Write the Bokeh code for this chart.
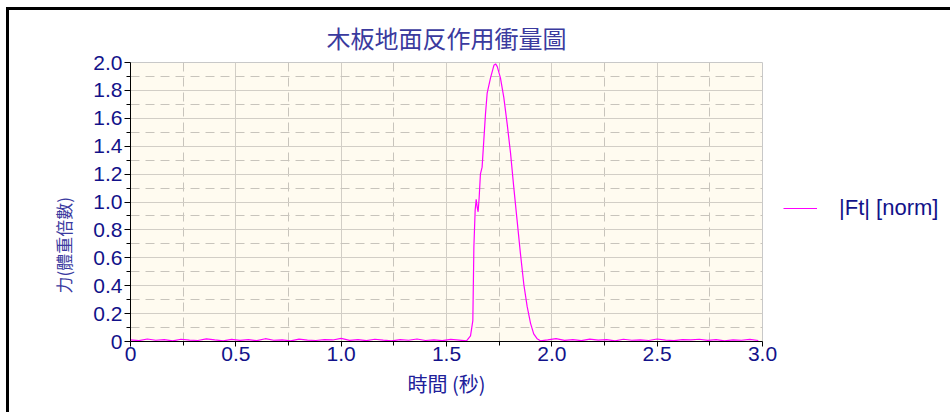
import math
from bokeh.plotting import figure
from bokeh.models import (Range1d, FixedTicker, Legend, LegendItem, Title,
                          NumeralTickFormatter)
from bokeh.embed import file_html
from bokeh.resources import INLINE

# ---- data ----
time_s = [
    0.00, 0.04, 0.08, 0.12, 0.16, 0.20, 0.24, 0.28, 0.32, 0.36,
    0.40, 0.44, 0.48, 0.52, 0.56, 0.60, 0.64, 0.68, 0.72, 0.76,
    0.80, 0.84, 0.88, 0.92, 0.96, 1.00, 1.04, 1.08, 1.12, 1.16,
    1.20, 1.24, 1.28, 1.32, 1.36, 1.40, 1.44, 1.48, 1.52, 1.56,
    1.595, 1.614, 1.625, 1.630, 1.636, 1.641, 1.646, 1.650, 1.655, 1.661,
    1.669, 1.677, 1.685, 1.693, 1.709, 1.725, 1.733, 1.741, 1.756, 1.772,
    1.788, 1.804, 1.819, 1.835, 1.851, 1.867, 1.883, 1.899, 1.914, 1.930,
    1.946, 1.98, 2.02, 2.06, 2.10, 2.14, 2.18, 2.22, 2.26, 2.30,
    2.34, 2.38, 2.42, 2.46, 2.50, 2.54, 2.58, 2.62, 2.66, 2.70,
    2.74, 2.78, 2.82, 2.86, 2.90, 2.94, 2.98,
]
force_bw = [
    0.012, 0.006, 0.018, 0.009, 0.014, 0.004, 0.016, 0.010, 0.007, 0.019,
    0.011, 0.005, 0.015, 0.008, 0.013, 0.006, 0.020, 0.009, 0.012, 0.005,
    0.017, 0.010, 0.007, 0.014, 0.011, 0.022, 0.008, 0.013, 0.006, 0.016,
    0.010, 0.005, 0.014, 0.009, 0.018, 0.007, 0.012, 0.006, 0.015, 0.010,
    0.005, 0.040, 0.150, 0.680, 0.940, 1.020, 0.960, 0.930, 1.030, 1.200,
    1.250, 1.440, 1.630, 1.780, 1.890, 1.980, 1.990, 1.970, 1.890, 1.750,
    1.560, 1.350, 1.110, 0.870, 0.630, 0.410, 0.250, 0.130, 0.055, 0.020,
    0.005, 0.012, 0.021, 0.008, 0.014, 0.006, 0.017, 0.010, 0.013, 0.005,
    0.016, 0.009, 0.012, 0.007, 0.018, 0.010, 0.006, 0.014, 0.011, 0.016,
    0.008, 0.013, 0.005, 0.012, 0.009, 0.015, 0.007,
]
series_name = "|Ft| [norm]"
title_text = "木板地面反作用衝量圖"
x_label = "時間 (秒)"
y_label = "力(體重倍數)"
x_ticks = [0.0, 0.5, 1.0, 1.5, 2.0, 2.5, 3.0]
x_minor = [0.25, 0.75, 1.25, 1.75, 2.25, 2.75]
y_ticks = [0.0, 0.2, 0.4, 0.6, 0.8, 1.0, 1.2, 1.4, 1.6, 1.8, 2.0]
y_minor = [0.1, 0.3, 0.5, 0.7, 0.9, 1.1, 1.3, 1.5, 1.7, 1.9]

NAVY = "#12128a"
CJK = "Noto Sans CJK TC"
LAT = "Liberation Sans"

p = figure(frame_width=632, frame_height=279, output_backend="svg",
           toolbar_location=None,
           x_range=Range1d(0, 3.0), y_range=Range1d(0, 2.0),
           min_border_left=121, min_border_right=188, min_border_top=52,
           min_border_bottom=71,
           styles={"border-left": "3px solid black", "border-top": "3px solid black",
                   "margin-left": "6px", "margin-top": "7px"})

p.title.text = title_text
p.title.align = "center"
p.title.text_font = CJK
p.title.text_font_size = "24px"
p.title.text_font_style = "normal"
p.title.text_color = "#3a3a9e"
p.title.offset = 0
p.title.standoff = 15

p.background_fill_color = "#fffbf0"
p.border_fill_color = "white"
p.outline_line_color = "#c8c8c8"

# grids
for g in (p.xgrid, p.ygrid):
    g.grid_line_color = "#d2cec6"
    g.grid_line_width = 1
    g.minor_grid_line_color = "#c8c4bc"
    g.minor_grid_line_dash = "9 6"
    g.minor_grid_line_width = 1

p.xaxis.ticker = FixedTicker(ticks=x_ticks, minor_ticks=x_minor)
p.yaxis.ticker = FixedTicker(ticks=y_ticks, minor_ticks=y_minor)
p.xgrid.ticker = p.xaxis.ticker
p.ygrid.ticker = p.yaxis.ticker

for ax in (p.xaxis, p.yaxis):
    ax.formatter = NumeralTickFormatter(format="0.0")
    ax.axis_line_color = "black"
    ax.major_tick_line_color = "black"
    ax.minor_tick_line_color = "black"
    ax.major_tick_in = 0
    ax.minor_tick_in = 0
    ax.major_label_text_font = LAT
    ax.major_label_text_font_size = "21px"
    ax.major_label_text_color = NAVY
    ax.major_label_overrides = {0: "0"}

p.yaxis.major_tick_out = 6
p.yaxis.minor_tick_out = 4
p.yaxis.major_label_standoff = 2
p.xaxis.major_tick_out = 5
p.xaxis.minor_tick_out = 4
p.xaxis.major_label_standoff = 0

p.xaxis.axis_label = x_label
p.xaxis.axis_label_text_font = CJK
p.xaxis.axis_label_text_font_size = "20px"
p.xaxis.axis_label_text_font_style = "normal"
p.xaxis.axis_label_text_color = "#20209a"
p.xaxis.axis_label_standoff = 5

r = p.line(time_s, force_bw, line_color="#ff00ff", line_width=1.2)

ytitle = Title(text=y_label, align="left", offset=48, standoff=29,
               text_font=CJK, text_font_size="17px", text_font_style="normal",
               text_color="#3a3aa0")
p.add_layout(ytitle, "left")

legend = Legend(items=[LegendItem(label=series_name, renderers=[r])],
                location=(21, 120), glyph_width=34, label_standoff=22,
                padding=0, margin=0, border_line_color=None,
                background_fill_alpha=0, label_text_font=LAT,
                label_text_font_size="22px", label_text_color=NAVY)
p.add_layout(legend, "right")

open("out.html", "w").write(file_html(p, INLINE))
